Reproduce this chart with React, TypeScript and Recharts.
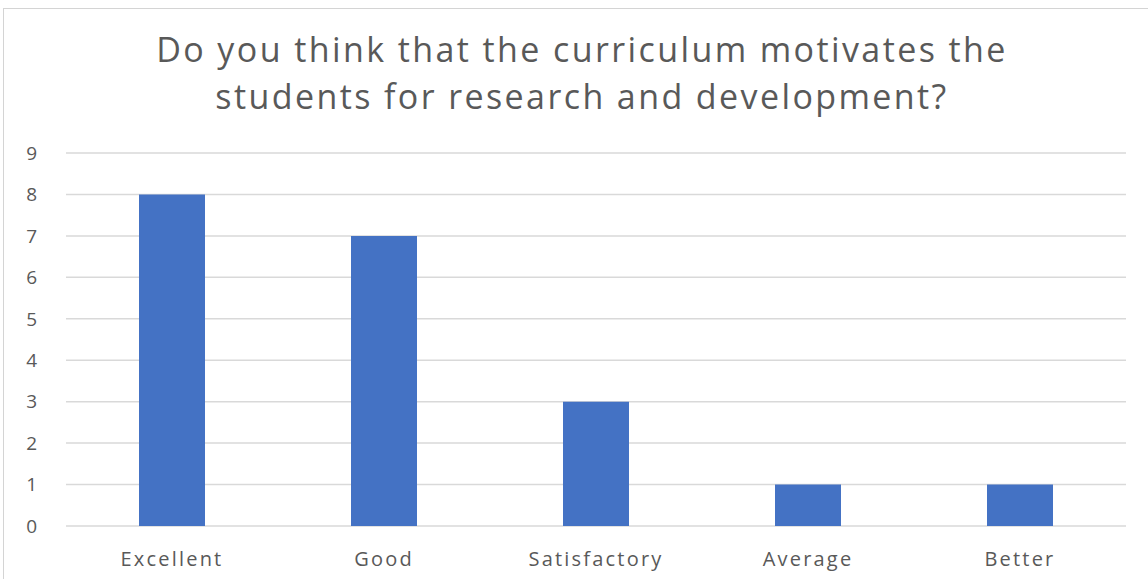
import React from "react";
import { BarChart, Bar, XAxis, YAxis, CartesianGrid } from "recharts";

const categories = ["Excellent", "Good", "Satisfactory", "Average", "Better"];
const responses = [8, 7, 3, 1, 1];
const yTicks = [0, 1, 2, 3, 4, 5, 6, 7, 8, 9];
const titleLines = [
  "Do you think that the curriculum motivates the",
  "students for research and development?",
];

const data = categories.map((name, i) => ({ name, value: responses[i] }));

const textColor = "#595959";
const font = "'Open Sans', sans-serif";

export default function App() {
  return (
    <div
      style={{
        position: "absolute",
        left: 0,
        top: 0,
        width: 1148,
        height: 579,
        background: "#fff",
        overflow: "hidden",
        fontFamily: font,
      }}
    >
      <div
        style={{
          position: "absolute",
          left: 3,
          top: 8,
          width: 1160,
          height: 600,
          border: "1px solid #d4d4d4",
        }}
      />
      <div
        style={{
          position: "absolute",
          left: 0,
          top: 26,
          width: 1164,
          textAlign: "center",
          color: textColor,
          fontSize: 34,
          letterSpacing: 2.4,
          lineHeight: "47px",
        }}
      >
        {titleLines.map((l) => (
          <div key={l}>{l}</div>
        ))}
      </div>
      <BarChart
        width={1148}
        height={579}
        data={data}
        margin={{ top: 153, right: 22, bottom: 23, left: 26 }}
        style={{ position: "absolute", left: 0, top: 0 }}
      >
        <CartesianGrid vertical={false} stroke="#d9d9d9" strokeWidth={1.5} />
        <XAxis
          dataKey="name"
          axisLine={false}
          tickLine={false}
          height={30}
          tickMargin={20}
          tick={{ fill: textColor, fontSize: 20, fontFamily: font, letterSpacing: 2.2 }}
        />
        <YAxis
          domain={[0, 9]}
          ticks={yTicks}
          width={40}
          axisLine={false}
          tickLine={false}
          tickMargin={23}
          tick={{ fill: textColor, fontSize: 19, fontFamily: font }}
        />
        <Bar dataKey="value" fill="#4472C4" barSize={66} isAnimationActive={false} />
      </BarChart>
    </div>
  );
}
